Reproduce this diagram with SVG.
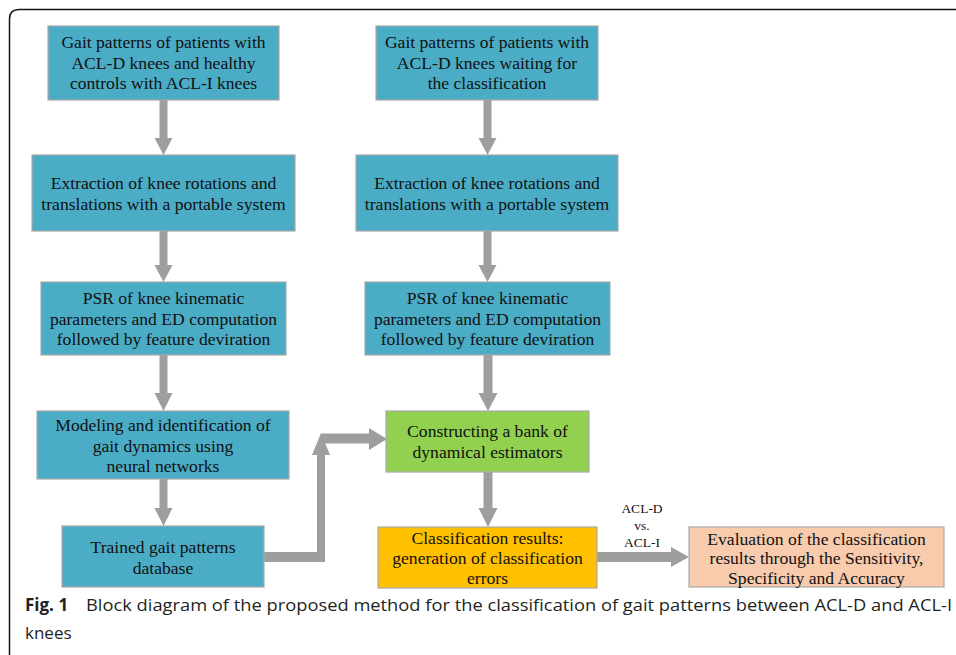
<svg xmlns="http://www.w3.org/2000/svg" width="956" height="655" viewBox="0 0 956 655">
<defs>
<style>
.box{stroke:#a9a9a9;stroke-width:1.2}
.blue{fill:#4bacc6}
.green{fill:#92d050}
.orange{fill:#ffc000}
.salmon{fill:#f8cbad}
.t{font-family:"Liberation Serif","Times New Roman",serif;font-size:17.6px;fill:#111;text-anchor:middle}
.lbl{font-family:"Liberation Serif","Times New Roman",serif;font-size:13.5px;fill:#111;text-anchor:middle}
.arr{fill:#9e9e9e}
.cap{font-family:"Open Sans","Noto Sans",sans-serif;font-size:17px;fill:#231f20}
</style>
</defs>
<rect width="956" height="655" fill="#fff"/>
<path d="M9.5 655 L9.5 19 Q9.5 9.5 19 9.5 L956 9.5" fill="none" stroke="#111" stroke-width="1.5"/>

<g id="connectors">
<path class="arr" d="M159.5 100 H167.5 V138 H172.5 L163.5 155 L154.5 138 H159.5 Z"/>
<path class="arr" d="M159.5 231 H167.5 V265 H172.5 L163.5 282 L154.5 265 H159.5 Z"/>
<path class="arr" d="M159.5 355 H167.5 V393 H172.5 L163.5 411 L154.5 393 H159.5 Z"/>
<path class="arr" d="M159.5 479 H167.5 V508 H172.5 L163.5 526 L154.5 508 H159.5 Z"/>
<path class="arr" d="M483.5 100 H491.5 V138 H496.5 L487.5 155 L478.5 138 H483.5 Z"/>
<path class="arr" d="M483.5 231 H491.5 V265 H496.5 L487.5 282 L478.5 265 H483.5 Z"/>
<path class="arr" d="M483.5 355 H492.5 V393 H497.5 L488 411 L478.5 393 H483.5 Z"/>
<path class="arr" d="M483.5 472 H492.5 V508 H497.5 L488 527 L478.5 508 H483.5 Z"/>
<path class="arr" d="M264 552 H317 V455 H312 L321 433 L330 455 H325 V562 H264 Z"/>
<path class="arr" d="M321 433.5 H369 V428 L387 439 L369 450 V443.5 H321 Z"/>
<path class="arr" d="M597 552 H671 V547 L689 557 L671 567 V562 H597 Z"/>
<text class="lbl" x="642" y="513">ACL-D</text>
<text class="lbl" x="642" y="530">vs.</text>
<text class="lbl" x="642" y="547">ACL-I</text>
</g>

<g id="L1">
<rect class="box blue" x="48" y="26" width="231" height="74"/>
<text class="t" x="163.5" y="48">Gait patterns of patients with</text>
<text class="t" x="163.5" y="68.5">ACL-D knees and healthy</text>
<text class="t" x="163.5" y="89">controls with ACL-I knees</text>
</g>
<g id="L2">
<rect class="box blue" x="32" y="155" width="263" height="76"/>
<text class="t" x="163.5" y="189">Extraction of knee rotations and</text>
<text class="t" x="163.5" y="209.5">translations with a portable system</text>
</g>
<g id="L3">
<rect class="box blue" x="41" y="282" width="245" height="73"/>
<text class="t" x="163.5" y="304">PSR of knee kinematic</text>
<text class="t" x="163.5" y="324.5">parameters and ED computation</text>
<text class="t" x="163.5" y="345">followed by feature deviration</text>
</g>
<g id="L4">
<rect class="box blue" x="37" y="411" width="252" height="68"/>
<text class="t" x="163" y="431">Modeling and identification of</text>
<text class="t" x="163" y="451.5">gait dynamics using</text>
<text class="t" x="163" y="472">neural networks</text>
</g>
<g id="L5">
<rect class="box blue" x="62" y="526" width="202" height="61"/>
<text class="t" x="163" y="553">Trained gait patterns</text>
<text class="t" x="163" y="573.5">database</text>
</g>

<g id="R1">
<rect class="box blue" x="376" y="26" width="222" height="74"/>
<text class="t" x="487" y="48">Gait patterns of patients with</text>
<text class="t" x="487" y="68.5">ACL-D knees waiting for</text>
<text class="t" x="487" y="89">the classification</text>
</g>
<g id="R2">
<rect class="box blue" x="356" y="155" width="262" height="76"/>
<text class="t" x="487" y="189">Extraction of knee rotations and</text>
<text class="t" x="487" y="209.5">translations with a portable system</text>
</g>
<g id="R3">
<rect class="box blue" x="365" y="282" width="245" height="73"/>
<text class="t" x="487.5" y="304">PSR of knee kinematic</text>
<text class="t" x="487.5" y="324.5">parameters and ED computation</text>
<text class="t" x="487.5" y="345">followed by feature deviration</text>
</g>
<g id="R4">
<rect class="box green" x="386" y="411" width="203" height="61"/>
<text class="t" x="487.5" y="437">Constructing a bank of</text>
<text class="t" x="487.5" y="458">dynamical estimators</text>
</g>
<g id="R5">
<rect class="box orange" x="378" y="527" width="219" height="61"/>
<text class="t" x="487.5" y="544">Classification results:</text>
<text class="t" x="487.5" y="564">generation of classification</text>
<text class="t" x="487.5" y="584">errors</text>
</g>
<g id="R6">
<rect class="box salmon" x="689" y="527" width="255" height="60"/>
<text class="t" x="816.5" y="545">Evaluation of the classification</text>
<text class="t" x="816.5" y="564">results through the Sensitivity,</text>
<text class="t" x="816.5" y="583.5">Specificity and Accuracy</text>
</g>

<g id="caption">
<text class="cap" x="25" y="611" font-weight="bold">Fig. 1</text>
<text class="cap" x="86" y="611" textLength="866" lengthAdjust="spacingAndGlyphs">Block diagram of the proposed method for the classification of gait patterns between ACL-D and ACL-I</text>
<text class="cap" x="25" y="639">knees</text>
</g>
</svg>
